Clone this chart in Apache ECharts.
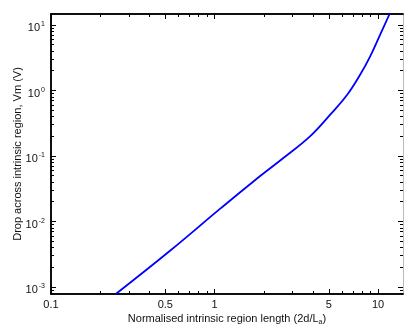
<!DOCTYPE html>
<html>
<head>
<meta charset="utf-8">
<script src="https://cdn.jsdelivr.net/npm/echarts@6/dist/echarts.min.js"></script>
<style>
  html, body { margin: 0; padding: 0; background: #fff; }
  #chart { width: 406px; height: 326px; }
</style>
</head>
<body>
<div id="chart"></div>
<script>
// normalised length 2d/La and voltage drop Vm (V)
const dLen = [0.249, 0.539, 1.088, 1.729, 2.634, 3.849, 5.097, 6.47, 7.76, 8.93, 10.28, 11.75]
const vDrop = [0.00078, 0.00363, 0.0158, 0.0408, 0.0929, 0.201, 0.427, 0.86, 1.734, 3.29, 7.05, 14.7]

const xLabels = [0.1, 0.5, 1, 5, 10]
const xMinor = [0.2, 0.3, 0.4, 0.6, 0.7, 0.8, 0.9, 2, 3, 4, 6, 7, 8, 9]
const yLabels = [0.001, 0.01, 0.1, 1, 10]
const yMinor = [0.0008, 0.0009]
;[0.001, 0.01, 0.1, 1].forEach((d) => {
  for (let k = 2; k <= 9; k++) yMinor.push(+(k * d).toPrecision(3))
})

const xRange = [0.1, 14.2]
const yRange = [0.00078, 14.7]

const chart = echarts.init(document.getElementById('chart'))

const font = 'Liberation Sans, Arial, sans-serif'
const lineStyle = { color: '#000', width: 1.5 }

const xAxisBase = (position, ticks, len, extra) => ({
  type: 'log',
  logBase: 10,
  min: xRange[0],
  max: xRange[1],
  position: position,
  axisLine: { show: true, onZero: false, lineStyle: lineStyle },
  axisTick: { show: true, inside: true, length: len, customValues: ticks, lineStyle: { color: '#000', width: 1 } },
  axisLabel: { show: false },
  splitLine: { show: false },
  ...extra,
})

const yAxisBase = (position, ticks, len, extra) => ({
  type: 'log',
  logBase: 10,
  min: yRange[0],
  max: yRange[1],
  position: position,
  axisLine: { show: true, onZero: false, lineStyle: lineStyle },
  axisTick: { show: true, inside: true, length: len, customValues: ticks, lineStyle: { color: '#000', width: 1 } },
  axisLabel: { show: false },
  splitLine: { show: false },
  ...extra,
})

const option = {
  animation: false,
  backgroundColor: '#fff',
  grid: { left: 51, right: 3, top: 14, bottom: 32, outerBoundsMode: 'none', containLabel: false },
  xAxis: [
    xAxisBase('bottom', xLabels, 5, {
      name: 'Normalised intrinsic region length (2d/L{sub|a})',
      nameLocation: 'middle',
      nameGap: 17,
      nameMoveOverlap: false,
      nameTextStyle: {
        fontFamily: font,
        fontSize: 11,
        color: '#111',
        rich: { sub: { fontSize: 7, padding: [8, 0, 0, 0], fontFamily: font, color: '#111' } },
      },
      axisLabel: {
        show: true,
        customValues: xLabels,
        margin: 5,
        fontFamily: font,
        fontSize: 11,
        color: '#111',
        formatter: (v) => String(v),
      },
    }),
    xAxisBase('bottom', xMinor, 3, {}),
    xAxisBase('top', xLabels, 5, {}),
    xAxisBase('top', xMinor, 3, {}),
  ],
  yAxis: [
    yAxisBase('left', yLabels, 5, {
      name: 'Drop across intrinsic region, Vm (V)',
      nameLocation: 'middle',
      nameGap: 28,
      nameMoveOverlap: false,
      nameTextStyle: { fontFamily: font, fontSize: 11, color: '#111' },
      axisLabel: {
        show: true,
        customValues: yLabels,
        margin: 6,
        padding: [7, 0, 0, 0],
        fontFamily: font,
        color: '#111',
        formatter: (v) => '{b|10}{s|' + Math.round(Math.log10(v)) + '}',
        rich: {
          b: { fontSize: 11, fontFamily: font, color: '#111' },
          s: { fontSize: 7, fontFamily: font, color: '#111', padding: [0, 0, 8, 1] },
        },
      },
    }),
    yAxisBase('left', yMinor, 3, {}),
    yAxisBase('right', yLabels, 5, { axisLine: { show: true, lineStyle: { color: '#bbb', width: 1 } } }),
    yAxisBase('right', yMinor, 3, { axisLine: { show: false } }),
  ],
  series: [
    {
      type: 'line',
      data: dLen.map((d, i) => [d, vDrop[i]]),
      xAxisIndex: 0,
      yAxisIndex: 0,
      smooth: 0.4,
      showSymbol: false,
      clip: true,
      lineStyle: { color: '#0000ff', width: 1.8 },
    },
  ],
}

chart.setOption(option)
</script>
</body>
</html>
